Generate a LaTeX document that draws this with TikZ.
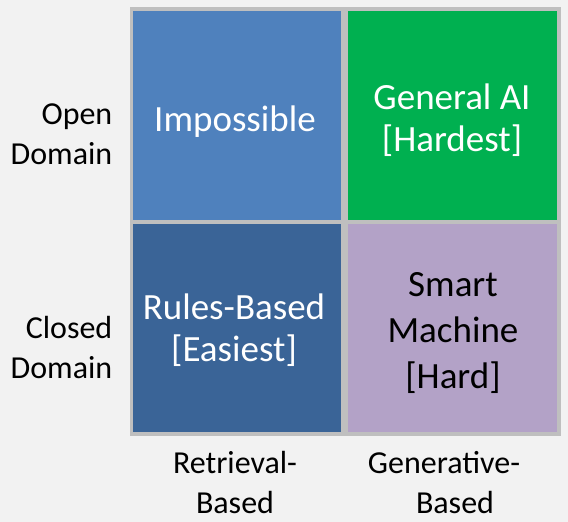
\documentclass[tikz,border=0pt]{standalone}
\usepackage{fontspec}
\setmainfont{Carlito}
\definecolor{bgc}{HTML}{F2F2F2}
\definecolor{gridc}{HTML}{BFBFBF}
\definecolor{blueA}{HTML}{4F81BD}
\definecolor{blueB}{HTML}{3A6497}
\definecolor{greenA}{HTML}{00B050}
\definecolor{lavA}{HTML}{B3A2C7}
\begin{document}
\begin{tikzpicture}[x=1pt,y=-1pt,
  celltext/.style={inner sep=0pt, anchor=base, font=\fontsize{37}{42.5}\selectfont},
  sidetext/.style={inner sep=0pt, anchor=base east, font=\fontsize{32}{40}\selectfont, text=black},
  axistext/.style={inner sep=0pt, anchor=base, font=\fontsize{32}{40.3}\selectfont, text=black}]
\fill[bgc] (0,0) rectangle (568,522);
\useasboundingbox (0,0) rectangle (568,522);
\fill[gridc] (129.5,7) rectangle (560.5,435.5);
\fill[blueA] (133,11) rectangle (341,220);
\fill[greenA] (348,11) rectangle (557,220);
\fill[blueB] (133,224) rectangle (341,432);
\fill[lavA] (348,224) rectangle (557,432);
\node[celltext, text=white] (imp) at (235,131.7) {Impossible};
\node[celltext, text=white] (gen) at (452,109) {\begin{tabular}[t]{@{}c@{}}General AI\\\relax[Hardest]\end{tabular}};
\node[celltext, text=white] (rul) at (234,319.3) {\begin{tabular}[t]{@{}c@{}}Rules-Based\\\relax[Easiest]\end{tabular}};
\node[celltext, text=black, font=\fontsize{37}{46}\selectfont] (sma) at (453,296) {\begin{tabular}[t]{@{}c@{}}Smart\\Machine\\\relax[Hard]\end{tabular}};
\node[sidetext] (open) at (112.5,124) {\begin{tabular}[t]{@{}r@{}}Open\\Domain\end{tabular}};
\node[sidetext] (closed) at (112.5,338.3) {\begin{tabular}[t]{@{}r@{}}Closed\\Domain\end{tabular}};
\node[axistext] (ret) at (235,473) {\begin{tabular}[t]{@{}c@{}}Retrieval-\\Based\end{tabular}};
\node[axistext] (gnr) at (444,473) {\begin{tabular}[t]{@{}c@{}}Generative-\\\hspace*{22pt}Based\end{tabular}};
\end{tikzpicture}
\end{document}
